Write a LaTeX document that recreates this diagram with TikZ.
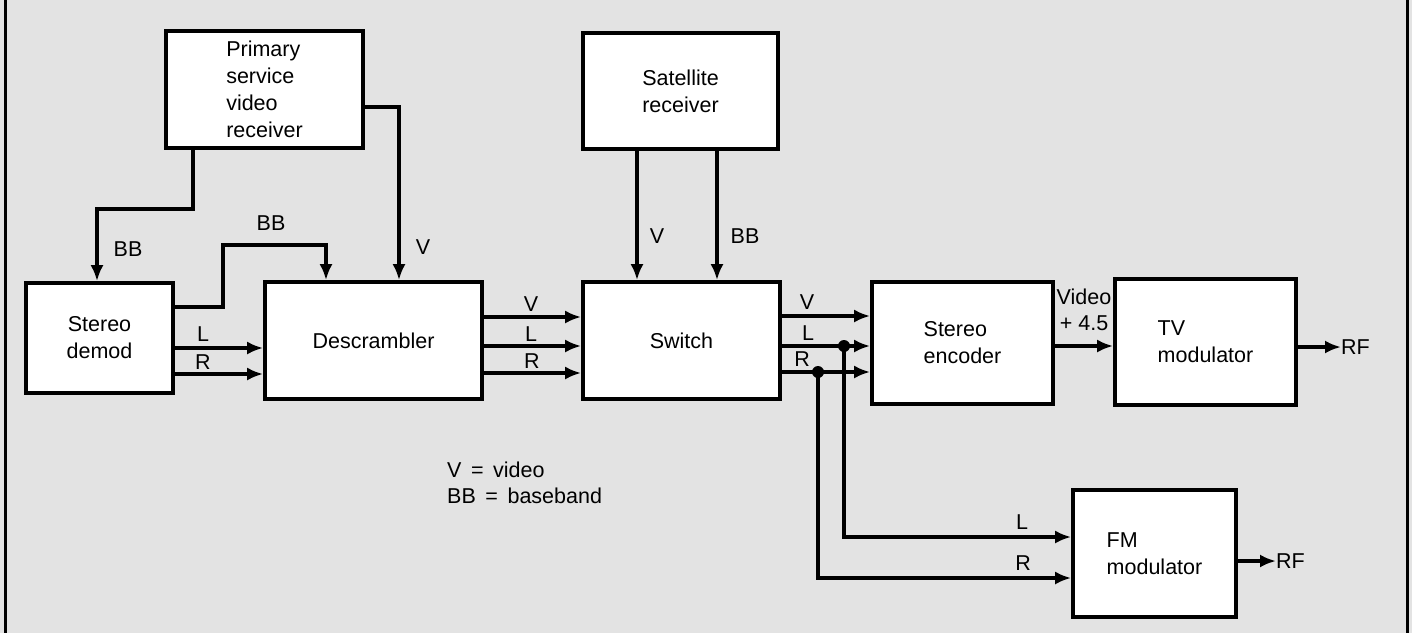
\documentclass[tikz,border=0pt]{standalone}
\usepackage{fontspec}
\setmainfont{Liberation Sans}
\usetikzlibrary{arrows.meta}
\definecolor{bggray}{HTML}{E3E3E3}
\begin{document}
\begin{tikzpicture}[x=1pt,y=-1pt,
  blk/.style={draw, line width=3.6pt, fill=white, inner sep=0pt, align=center, font=\fontsize{21.5}{27}\selectfont},
  lbl/.style={font=\fontsize{21.5}{26}\selectfont, inner sep=0pt},
  arr/.style={line width=3.4pt, -{Latex[length=16pt,width=13pt]}},
  dot/.style={circle, fill=black, inner sep=0pt, minimum size=12pt}
]
\useasboundingbox (0,0) rectangle (1412,633);
\fill[bggray] (0,0) rectangle (1412,633);
\draw[line width=3pt] (5,0) -- (5,633);
\draw[line width=3pt] (1407,0) -- (1407,633);

% blocks
\node[blk, minimum width=197pt, minimum height=117pt, align=left] (prim) at (264.5,89.5) {Primary\\service\\video\\receiver};
\node[blk, minimum width=195pt, minimum height=116pt] (sat) at (680.5,91) {Satellite\\receiver};
\node[blk, minimum width=147pt, minimum height=110pt] (demod) at (99.5,338) {Stereo\\demod};
\node[blk, minimum width=217pt, minimum height=117pt] (desc) at (373.5,340.5) {Descrambler};
\node[blk, minimum width=197pt, minimum height=117pt] (sw) at (681.5,340.5) {Switch};
\node[blk, minimum width=181pt, minimum height=122pt, align=left] (enc) at (962.5,343) {Stereo\\encoder};
\node[blk, minimum width=181pt, minimum height=126pt, align=left] (tv) at (1205.5,342) {TV\\modulator};
\node[blk, minimum width=163pt, minimum height=127pt, align=left] (fm) at (1154.5,553.5) {FM\\modulator};

% RF outputs
\node[lbl, anchor=west] (rf1) at (1341,347) {RF};
\node[lbl, anchor=west] (rf2) at (1276,561) {RF};

% connectors from primary receiver
\draw[arr] (193,0 |- prim.south) |- (97,209) -- (97,0 |- demod.north);
\draw[arr] (prim.east |- 0,107) -| (399,0 |- desc.north);
\node[lbl] (lbb1) at (128,249) {BB};
\node[lbl] (lv1) at (423,247) {V};

% stereo demod to descrambler
\draw[arr] (demod.east |- 0,307) -- (223,307) |- (326,245) -- (326,0 |- desc.north);
\node[lbl] (lbb2) at (271,223) {BB};
\draw[arr] (demod.east |- 0,348) -- (desc.west |- 0,348);
\draw[arr] (demod.east |- 0,374) -- (desc.west |- 0,374);
\node[lbl] (ll1) at (203,334) {L};
\node[lbl] (lr1) at (203,362) {R};

% descrambler to switch
\draw[arr] (desc.east |- 0,317) -- (sw.west |- 0,317);
\draw[arr] (desc.east |- 0,346) -- (sw.west |- 0,346);
\draw[arr] (desc.east |- 0,373) -- (sw.west |- 0,373);
\node[lbl] (lv2) at (531,304) {V};
\node[lbl] (ll2) at (531,334) {L};
\node[lbl] (lr2) at (532,361) {R};

% satellite to switch
\draw[arr] (637,0 |- sat.south) -- (637,0 |- sw.north);
\draw[arr] (717,0 |- sat.south) -- (717,0 |- sw.north);
\node[lbl] (lv3) at (657,236) {V};
\node[lbl] (lbb3) at (745,236) {BB};

% switch to stereo encoder
\draw[arr] (sw.east |- 0,316) -- (enc.west |- 0,316);
\draw[arr] (sw.east |- 0,346) -- (enc.west |- 0,346);
\draw[arr] (sw.east |- 0,372) -- (enc.west |- 0,372);
\node[lbl] (lv4) at (807,302) {V};
\node[lbl] (ll4) at (808,333) {L};
\node[lbl] (lr4) at (802,359) {R};

% taps to FM modulator
\coordinate (jL) at (844,346);
\coordinate (jR) at (818,372);
\node[dot] (dL) at (jL) {};
\node[dot] (dR) at (jR) {};
\draw[arr] (jL) |- (fm.west |- 0,537);
\draw[arr] (jR) |- (fm.west |- 0,578);
\node[lbl] (ll5) at (1022,522) {L};
\node[lbl] (lr5) at (1023,563) {R};

% encoder to TV modulator
\draw[arr] (enc.east |- 0,346) -- (tv.west |- 0,346);
\node[lbl, align=center] (lvid) at (1084,310) {Video\\+ 4.5};

% RF arrows
\draw[arr] (tv.east |- 0,347) -- (rf1.west);
\draw[arr] (fm.east |- 0,561) -- (rf2.west);

% legend
\node[lbl, anchor=north west, align=left] (leg) at (447,462) {V \,=\, video\\BB \,=\, baseband};
\end{tikzpicture}
\end{document}
